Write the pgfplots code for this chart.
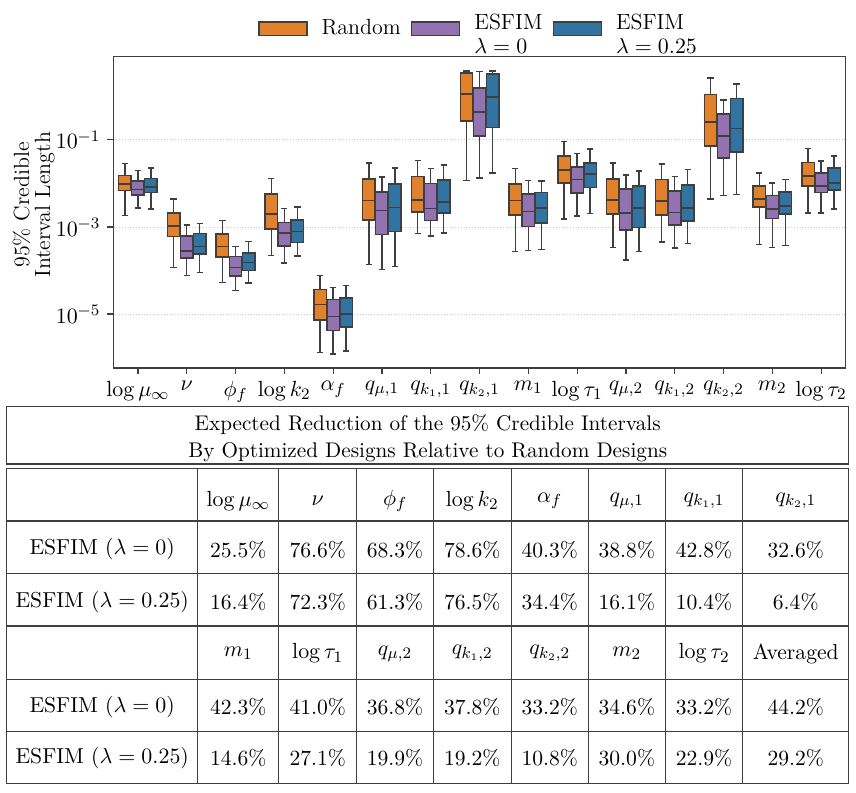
\documentclass[border=0pt]{standalone}
\usepackage{pgfplots}
\pgfplotsset{compat=1.18}
\usepgfplotslibrary{statistics}
\definecolor{cO}{HTML}{E1812C}
\definecolor{cP}{HTML}{9372B2}
\definecolor{cB}{HTML}{3274A1}
\definecolor{edge}{HTML}{3F3F3F}
% box: position, colour, upper whisker, upper quartile, median, lower quartile, lower whisker (log10 of interval length)
\newcommand{\bx}[7]{\addplot[draw=edge, fill=#2, line width=0.75pt,
  boxplot prepared={draw position=#1, upper whisker=#3, upper quartile=#4,
  median=#5, lower quartile=#6, lower whisker=#7, box extend=0.255, whisker extend=0.13}]
  coordinates {};}
\begin{document}
\begin{tikzpicture}
\path (0pt,0pt) rectangle (428pt,-396pt);
\begin{axis}[
  at={(56.75pt,-184pt)}, anchor=south west, scale only axis,
  width=366pt, height=155.65pt,
  boxplot/draw direction=y,
  xmin=-0.5, xmax=14.5, ymin=-6.24, ymax=0.91,
  xtick={0,...,14},
  xticklabels={{$\log\mu_\infty$},{$\nu$},{$\phi_f$},{$\log k_2$},{$\alpha_f$},{$q_{\mu,1}$},{$q_{k_1,1}$},{$q_{k_2,1}$},{$m_1$},{$\log\tau_1$},{$q_{\mu,2}$},{$q_{k_1,2}$},{$q_{k_2,2}$},{$m_2$},{$\log\tau_2$}},
  ytick={-5,-3,-1}, yticklabels={$10^{-5}$,$10^{-3}$,$10^{-1}$},
  ticklabel style={font=\fontsize{11}{13}\selectfont},
  ymajorgrids, grid style={densely dotted, black!20, line width=0.4pt},
  tick align=outside, xtick pos=bottom, ytick pos=left, major tick length=3pt,
  tick style={edge, line width=0.6pt},
  axis line style={edge, line width=0.6pt},
  ylabel={95\% Credible\\Interval Length},
  every axis y label/.style={at={(axis description cs:-0.109,0.524)}, rotate=90, anchor=center, align=center, font=\fontsize{11}{10.5}\selectfont},
  legend style={at={(0.5,1.09)}, anchor=center, draw=none, fill=none, legend columns=3,
    font=\fontsize{11}{12}\selectfont,
    /tikz/every even column/.append style={column sep=3pt},
    /tikz/every odd column/.append style={column sep=5pt}},
  legend image code/.code={\draw[#1] (0pt,-3.35pt) rectangle (24pt,3.35pt);},
]
\addlegendimage{fill=cO, draw=edge, line width=0.75pt}
\addlegendentry{Random}
\addlegendimage{fill=cP, draw=edge, line width=0.75pt}
\addlegendentry{\begin{tabular}{@{}l@{}}ESFIM\\$\lambda=0$\end{tabular}}
\addlegendimage{fill=cB, draw=edge, line width=0.75pt}
\addlegendentry{\begin{tabular}{@{}l@{}}ESFIM\\$\lambda=0.25$\end{tabular}}
% log mu_inf
\bx{-0.267}{cO}{-1.543}{-1.818}{-2.017}{-2.163}{-2.736}
\bx{0}{cP}{-1.704}{-1.948}{-2.140}{-2.262}{-2.560}
\bx{0.267}{cB}{-1.650}{-1.887}{-2.086}{-2.208}{-2.583}
% nu
\bx{0.733}{cO}{-2.354}{-2.675}{-2.981}{-3.218}{-3.929}
\bx{1}{cP}{-2.950}{-3.210}{-3.547}{-3.715}{-4.120}
\bx{1.267}{cB}{-2.920}{-3.149}{-3.447}{-3.623}{-4.052}
% phi_f
\bx{1.733}{cO}{-2.851}{-3.164}{-3.455}{-3.692}{-4.281}
\bx{2}{cP}{-3.447}{-3.677}{-3.929}{-4.128}{-4.457}
\bx{2.267}{cB}{-3.333}{-3.593}{-3.822}{-3.998}{-4.289}
% log k2
\bx{2.733}{cO}{-1.887}{-2.247}{-2.698}{-3.042}{-3.654}
\bx{3}{cP}{-2.575}{-2.897}{-3.141}{-3.440}{-3.830}
\bx{3.267}{cB}{-2.545}{-2.843}{-3.103}{-3.363}{-3.669}
% alpha_f
\bx{3.733}{cO}{-4.113}{-4.442}{-4.786}{-5.138}{-5.879}
\bx{4}{cP}{-4.396}{-4.671}{-5.053}{-5.375}{-5.918}
\bx{4.267}{cB}{-4.350}{-4.633}{-5.000}{-5.298}{-5.849}
% q_mu,1
\bx{4.733}{cO}{-1.535}{-1.902}{-2.392}{-2.843}{-3.860}
\bx{5}{cP}{-1.849}{-2.201}{-2.621}{-3.172}{-3.983}
\bx{5.267}{cB}{-1.642}{-2.017}{-2.553}{-3.103}{-3.914}
% q_k1,1
\bx{5.733}{cO}{-1.474}{-1.841}{-2.384}{-2.660}{-3.149}
\bx{6}{cP}{-1.658}{-2.002}{-2.575}{-2.851}{-3.203}
\bx{6.267}{cB}{-1.574}{-1.925}{-2.430}{-2.675}{-3.141}
% q_k2,1
\bx{6.733}{cO}{0.583}{0.537}{0.055}{-0.572}{-1.933}
\bx{7}{cP}{0.568}{0.193}{-0.365}{-0.916}{-1.872}
\bx{7.267}{cB}{0.583}{0.507}{-0.013}{-0.717}{-1.757}
% m1
\bx{7.733}{cO}{-1.658}{-2.010}{-2.392}{-2.728}{-3.562}
\bx{8}{cP}{-1.933}{-2.247}{-2.644}{-2.989}{-3.539}
\bx{8.267}{cB}{-1.948}{-2.208}{-2.560}{-2.904}{-3.516}
% log tau1
\bx{8.733}{cO}{-1.038}{-1.375}{-1.688}{-1.987}{-2.820}
\bx{9}{cP}{-1.314}{-1.627}{-1.910}{-2.224}{-2.751}
\bx{9.267}{cB}{-1.214}{-1.528}{-1.788}{-2.094}{-2.690}
% q_mu,2
\bx{9.733}{cO}{-1.535}{-1.895}{-2.377}{-2.698}{-3.478}
\bx{10}{cP}{-1.803}{-2.132}{-2.675}{-3.073}{-3.761}
\bx{10.267}{cB}{-1.711}{-2.055}{-2.568}{-3.011}{-3.562}
% q_k1,2
\bx{10.733}{cO}{-1.551}{-1.910}{-2.407}{-2.721}{-3.348}
\bx{11}{cP}{-1.841}{-2.178}{-2.667}{-2.958}{-3.486}
\bx{11.267}{cB}{-1.681}{-2.032}{-2.568}{-2.866}{-3.386}
% q_k2,2
\bx{11.733}{cO}{0.415}{0.040}{-0.595}{-1.145}{-2.354}
\bx{12}{cP}{-0.082}{-0.403}{-0.916}{-1.413}{-2.277}
\bx{12.267}{cB}{0.285}{-0.052}{-0.740}{-1.275}{-2.254}
% m2
\bx{12.733}{cO}{-1.757}{-2.055}{-2.361}{-2.545}{-3.401}
\bx{13}{cP}{-1.994}{-2.277}{-2.583}{-2.805}{-3.470}
\bx{13.267}{cB}{-1.910}{-2.201}{-2.514}{-2.705}{-3.424}
% log tau2
\bx{13.733}{cO}{-1.199}{-1.520}{-1.834}{-2.055}{-2.675}
\bx{14}{cP}{-1.489}{-1.757}{-2.055}{-2.208}{-2.683}
\bx{14.267}{cB}{-1.375}{-1.642}{-1.987}{-2.155}{-2.591}
\end{axis}
\begin{scope}[x=0.5pt, y=-0.5pt, line width=0.6pt, every node/.style={font=\fontsize{10.8}{13}\selectfont}]
  \draw[edge] (6.7,406.7) rectangle (848.7,464);
  \node[align=center, font=\fontsize{10.6}{13.5}\selectfont] at (427.7,438) {Expected Reduction of the 95\% Credible Intervals\\By Optimized Designs Relative to Random Designs};
  \draw[edge] (6.7,468.3) rectangle (848.7,783.3);
  \foreach \y in {521,573.3,626,679.3,731.7} \draw[edge] (6.7,\y) -- (848.7,\y);
  \foreach \x in {197.7,278.7,356.7,433.3,511.2,588.3,665.3,742.7} \draw[edge] (\x,468.3) -- (\x,783.3);
  % row 0
  \node at (238.2,501) {$\log\mu_\infty$};
  \node at (317.7,501) {$\nu$};
  \node at (395,501) {$\phi_f$};
  \node at (472.2,501) {$\log k_2$};
  \node at (549.7,501) {$\alpha_f$};
  \node at (626.8,501) {$q_{\mu,1}$};
  \node at (704,501) {$q_{k_1,1}$};
  \node at (795.7,501) {$q_{k_2,1}$};
  % row 1
  \node at (102.2,549.5) {ESFIM ($\lambda=0$)};
  \node at (238.2,549.5) {25.5\%};
  \node at (317.7,549.5) {76.6\%};
  \node at (395,549.5) {68.3\%};
  \node at (472.2,549.5) {78.6\%};
  \node at (549.7,549.5) {40.3\%};
  \node at (626.8,549.5) {38.8\%};
  \node at (704,549.5) {42.8\%};
  \node at (795.7,549.5) {32.6\%};
  % row 2
  \node at (102.2,602) {ESFIM ($\lambda=0.25$)};
  \node at (238.2,602) {16.4\%};
  \node at (317.7,602) {72.3\%};
  \node at (395,602) {61.3\%};
  \node at (472.2,602) {76.5\%};
  \node at (549.7,602) {34.4\%};
  \node at (626.8,602) {16.1\%};
  \node at (704,602) {10.4\%};
  \node at (795.7,602) {6.4\%};
  % row 3
  \node at (238.2,653.5) {$m_1$};
  \node at (317.7,653.5) {$\log\tau_1$};
  \node at (395,653.5) {$q_{\mu,2}$};
  \node at (472.2,653.5) {$q_{k_1,2}$};
  \node at (549.7,653.5) {$q_{k_2,2}$};
  \node at (626.8,653.5) {$m_2$};
  \node at (704,653.5) {$\log\tau_2$};
  \node at (795.7,653.5) {Averaged};
  % row 4
  \node at (102.2,707) {ESFIM ($\lambda=0$)};
  \node at (238.2,707) {42.3\%};
  \node at (317.7,707) {41.0\%};
  \node at (395,707) {36.8\%};
  \node at (472.2,707) {37.8\%};
  \node at (549.7,707) {33.2\%};
  \node at (626.8,707) {34.6\%};
  \node at (704,707) {33.2\%};
  \node at (795.7,707) {44.2\%};
  % row 5
  \node at (102.2,758) {ESFIM ($\lambda=0.25$)};
  \node at (238.2,758) {14.6\%};
  \node at (317.7,758) {27.1\%};
  \node at (395,758) {19.9\%};
  \node at (472.2,758) {19.2\%};
  \node at (549.7,758) {10.8\%};
  \node at (626.8,758) {30.0\%};
  \node at (704,758) {22.9\%};
  \node at (795.7,758) {29.2\%};
\end{scope}
\end{tikzpicture}
\end{document}
